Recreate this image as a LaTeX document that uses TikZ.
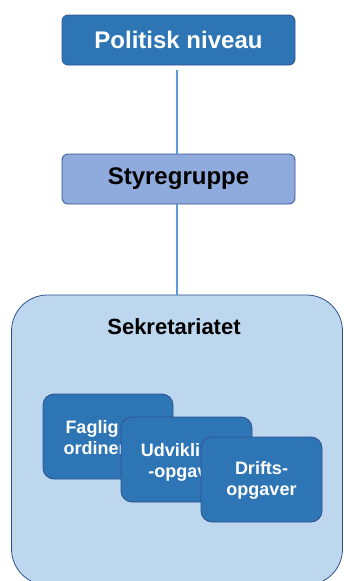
\documentclass[tikz,border=0pt]{standalone}
\usepackage{fontspec}
\setmainfont{Liberation Sans}
\definecolor{darkfill}{HTML}{2E75B6}
\definecolor{darkline}{HTML}{2F528F}
\definecolor{midfill}{HTML}{8FAADC}
\definecolor{lightfill}{HTML}{BDD7EE}
\definecolor{connline}{HTML}{5B9BD5}
\tikzset{
  topbox/.style={draw=darkline, line width=0.8pt, rounded corners=6pt, minimum width=233pt, minimum height=50pt, font=\fontsize{24}{28}\selectfont\bfseries, inner sep=0pt},
  taskbox/.style={draw=darkline, line width=0.8pt, fill=darkfill, rounded corners=11pt, minimum height=85pt, inner sep=0pt},
  tasktext/.style={text=white, font=\fontsize{18}{21}\selectfont\bfseries, align=center, inner sep=0pt},
  conn/.style={draw=connline, line width=1.6pt}
}
\begin{document}
\begin{tikzpicture}[x=1pt,y=1pt]
\useasboundingbox (0,0) rectangle (343,-581);
\node[draw=darkline, line width=0.8pt, fill=lightfill, rounded corners=36pt, minimum width=331pt, minimum height=290pt, inner sep=0pt] (sek) at (177,-440) {};
\node[font=\fontsize{22}{26}\selectfont\bfseries] (sektitle) at (174,-327) {Sekretariatet};
\node[topbox, fill=darkfill, text=white] (pol) at (178.5,-40) {Politisk niveau};
\node[topbox, fill=midfill, text=black] (sty) at (178.5,-179) {Styregruppe};
\draw[conn, shorten <=5pt] (pol.south -| sek.north) -- (sty.north -| sek.north);
\draw[conn] (sty.south -| sek.north) -- (sek.north);
\node[taskbox, minimum width=130pt] (fag) at (108,-436.5) {};
\node[tasktext] (fagtext) at (108,-439) {Faglig ko-\\ordinering};
\node[taskbox, minimum width=131pt] (udv) at (186.5,-459.5) {};
\node[tasktext] (udvtext) at (186.5,-462) {Udviklings\\-opgaver};
\node[taskbox, minimum width=121pt] (dri) at (261.5,-479.5) {};
\node[tasktext] (dritext) at (261.5,-480) {Drifts-\\opgaver};
\end{tikzpicture}
\end{document}
